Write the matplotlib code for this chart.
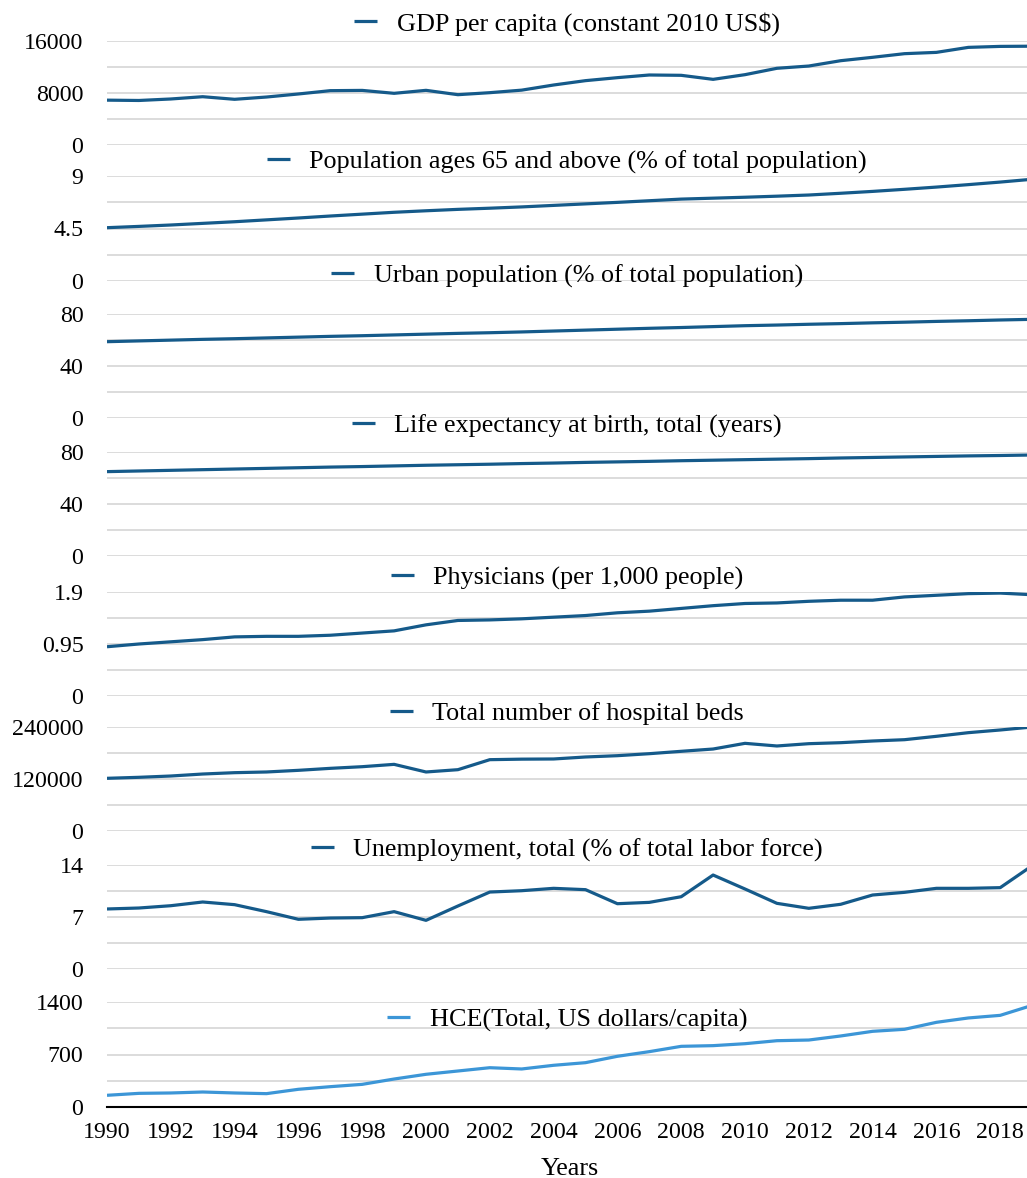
import matplotlib.pyplot as plt
import numpy as np

plt.rcParams['font.family'] = ['Liberation Serif', 'DejaVu Serif']

years = list(range(1990, 2020))

gdp_per_capita = [6900, 6850, 7080, 7430, 7030, 7380, 7850, 8360, 8400, 7950,
                  8410, 7740, 8050, 8440, 9230, 9900, 10360, 10770, 10720, 10100,
                  10820, 11800, 12150, 12970, 13490, 14050, 14250, 15020, 15170, 15200]
pop_65_above = [4.57, 4.68, 4.80, 4.94, 5.08, 5.24, 5.40, 5.57, 5.73, 5.89,
                6.02, 6.14, 6.24, 6.35, 6.48, 6.61, 6.74, 6.88, 7.02, 7.10,
                7.18, 7.27, 7.37, 7.52, 7.68, 7.86, 8.05, 8.26, 8.48, 8.72]
urban_pop = [58.7, 59.3, 59.9, 60.5, 61.0, 61.6, 62.2, 62.8, 63.3, 63.9,
             64.5, 65.1, 65.6, 66.2, 66.9, 67.6, 68.3, 69.0, 69.6, 70.3,
             71.0, 71.5, 72.1, 72.6, 73.2, 73.7, 74.3, 74.8, 75.4, 75.9]
life_expectancy = [64.9, 65.4, 65.9, 66.4, 66.9, 67.4, 67.9, 68.4, 68.8, 69.3,
                   69.8, 70.2, 70.6, 71.1, 71.5, 72.0, 72.4, 72.8, 73.3, 73.7,
                   74.1, 74.5, 74.9, 75.4, 75.8, 76.2, 76.6, 77.0, 77.3, 77.7]
physicians = [0.90, 0.95, 0.99, 1.03, 1.08, 1.09, 1.09, 1.11, 1.15, 1.19,
              1.30, 1.38, 1.39, 1.41, 1.44, 1.47, 1.52, 1.55, 1.60, 1.65,
              1.69, 1.70, 1.73, 1.75, 1.75, 1.81, 1.84, 1.87, 1.88, 1.85]
hospital_beds = [121600, 123900, 126900, 131500, 134600, 136200, 140000, 144600, 148400, 153800,
                 136200, 141500, 164600, 165800, 166200, 170800, 173800, 178400, 183900, 189200,
                 202300, 196200, 201500, 203800, 207700, 210700, 218500, 226900, 233100, 240000]
unemployment = [8.08, 8.21, 8.52, 9.02, 8.66, 7.72, 6.69, 6.86, 6.91, 7.72,
                6.55, 8.48, 10.36, 10.54, 10.86, 10.68, 8.79, 8.97, 9.73, 12.65,
                10.77, 8.84, 8.17, 8.71, 9.96, 10.32, 10.86, 10.86, 10.95, 13.9]
hce = [156, 182, 187, 200, 187, 178, 236, 271, 302, 373,
       436, 480, 524, 507, 556, 591, 676, 738, 809, 818,
       844, 884, 893, 947, 1009, 1036, 1129, 1187, 1222, 1355]

labels = ['GDP per capita (constant 2010 US$)',
          'Population ages 65 and above (% of total population)',
          'Urban population (% of total population)',
          'Life expectancy at birth, total (years)',
          'Physicians (per 1,000 people)',
          'Total number of hospital beds',
          'Unemployment, total (% of total labor force)',
          'HCE(Total, US dollars/capita)']
series = [gdp_per_capita, pop_65_above, urban_pop, life_expectancy,
          physicians, hospital_beds, unemployment, hce]
y_max = [16000, 9, 80, 80, 1.9, 240000, 14, 1400]

dark = '#155a8a'
light = '#3c96d7'
colors = [dark] * 7 + [light]

W, H = 1027, 1178
fig = plt.figure(figsize=(W / 100, H / 100), dpi=100)

# pixel layout of each panel (zero line, top line, legend centre)
zero_px = [145, 281, 418, 556, 696, 831, 969, 1107]
top_px = [41, 176, 314, 452, 592, 727, 865, 1002]
legend_px = [24, 162, 276, 426, 578, 713, 850, 1020]
left_px, right_px = 107, 1027
px_per_year = 31.9

tick_fs = 17.2
leg_fs = 18.8
axes = []
for i, (lab, vals, ymax) in enumerate(zip(labels, series, y_max)):
    ax = fig.add_axes([left_px / W, 1 - zero_px[i] / H,
                       (right_px - left_px) / W, (zero_px[i] - top_px[i]) / H])
    ax.plot(years, vals, color=colors[i], lw=2.3, label=lab, solid_capstyle='butt')
    ax.set_xlim(1990, 1990 + (right_px - left_px) / px_per_year)
    ax.set_ylim(0, ymax)
    ax.set_yticks([0, ymax / 2, ymax])
    ax.set_yticklabels(['{:g}'.format(v) for v in [0, ymax / 2, ymax]])
    ax.set_yticks([ymax / 4, ymax * 3 / 4], minor=True)
    ax.grid(True, which='both', axis='y', color='#d6d6d6', lw=1.2)
    ax.tick_params(axis='y', which='both', length=0, pad=17, labelsize=tick_fs)
    for s in ax.spines.values():
        s.set_visible(False)
    ax.set_facecolor('none')
    ax.set_xticks(range(1990, 2019, 2))
    ax.legend(loc='center', bbox_to_anchor=(567 / W, 1 - legend_px[i] / H),
              bbox_transform=fig.transFigure, frameon=False, fontsize=leg_fs,
              handlelength=0.88, handletextpad=0.75, borderpad=0, borderaxespad=0)
    if i < 7:
        ax.tick_params(axis='x', length=0, labelbottom=False)
    axes.append(ax)

last = axes[-1]
last.spines['bottom'].set_visible(True)
last.spines['bottom'].set_color('black')
last.spines['bottom'].set_linewidth(1.5)
last.tick_params(axis='x', length=0, pad=11, labelsize=tick_fs)

fig.text(570 / W, 1 - 1175 / H, 'Years', ha='center', va='baseline', fontsize=leg_fs)

fig.savefig('out.png', dpi=100)
